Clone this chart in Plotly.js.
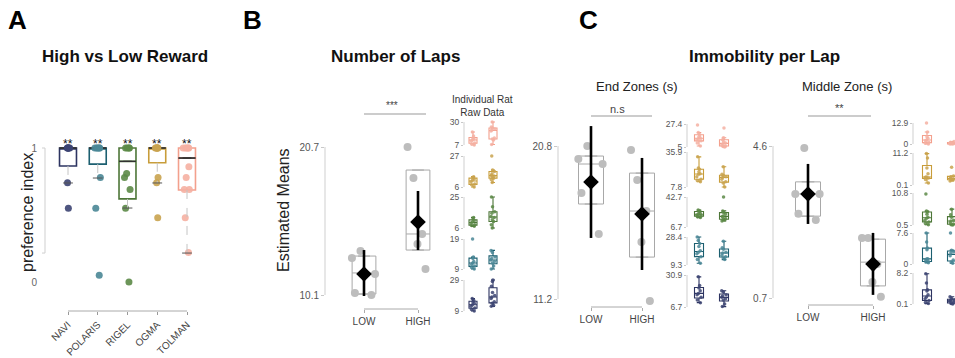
<!DOCTYPE html>
<html><head><meta charset="utf-8">
<script src="https://cdn.plot.ly/plotly-3.0.1.min.js"></script>
<style>html,body{margin:0;padding:0;background:#fff}#chart{width:955px;height:358px}</style>
</head><body><div id="chart"></div>
<script>
// ================= DATA =================
const rats = ['NAVI', 'POLARIS', 'RIGEL', 'OGMA', 'TOLMAN'];
const ratBoxColors = ['#2d3461', '#1c5f70', '#4d7638', '#c89d3a', '#f3a08d'];
const ratPointColors = ['#3c4472', '#4a8796', '#5c8947', '#c9a34f', '#f5b0a2'];

// Panel A: preference index (High vs Low Reward)
const prefQ1 = [0.866, 0.88, 0.62, 0.89, 0.687];
const prefMedian = [1, 1, 0.90, 1, 0.925];
const prefQ3 = [1, 1, 1, 1, 1];
const prefLowerWhisker = [0.739, 0.776, 0.552, 0.739, 0.216];
const prefPoints = [
  [1, 1, 1, 1, 1, 1, 0.74, 0.55],
  [1, 1, 1, 1, 1, 0.78, 0.55, 0.05],
  [1, 1, 1, 1, 0.81, 0.78, 0.69, 0.55, 0.0],
  [1, 1, 1, 1, 1, 1, 0.78, 0.74, 0.48],
  [1, 1, 1, 1, 1, 0.86, 0.78, 0.69, 0.69, 0.48, 0.22]
];
const prefSignif = ['**', '**', '**', '**', '**'];
const prefTicks = [0, 1];

const conditions = ['LOW', 'HIGH'];

// Panel B: number of laps (estimated means)
const lapsQ1 = [10.17, 13.32], lapsMedian = [11.68, 14.47], lapsQ3 = [12.89, 19.05];
const lapsMean = [11.6, 15.33], lapsCILow = [10.03, 13.32], lapsCIHigh = [13.32, 17.55];
const lapsPoints = [[13.25, 12.75, 11.6, 10.24, 10.1], [20.7, 18.48, 14.47, 13.75, 11.96]];
const lapsTicks = [10.1, 20.7];
const lapsSignif = '***';
const lapsRawLow = [
  [9, 10, 11, 12, 13, 14, 15, 16, 17],
  [9, 9.5, 10, 10.5, 11, 11.5, 12.5, 13, 19],
  [7, 7.5, 8, 9, 9.7, 10.5, 11.5, 12.5],
  [6, 7.5, 8, 9.5, 10.7, 11.5, 12.5, 13],
  [7, 8, 9, 11, 12, 13, 14, 16, 20]
];
const lapsRawHigh = [
  [12, 12.5, 14, 15, 17, 18, 19, 21, 25, 28, 29],
  [9, 10, 11, 11.5, 12, 12.5, 13, 14.5, 15.2],
  [6, 8, 10, 11, 12.5, 13, 15, 16, 19, 25],
  [9, 11, 12, 13, 13.4, 14, 15, 16.5, 17.5, 27],
  [7.5, 12, 13, 14, 21, 22, 23, 24, 25, 30]
];
const lapsRawTicks = [[9, 29], [9, 19], [6, 25], [6, 27], [7, 30]];

// Panel C: immobility per lap, end zones
const endQ1 = [17.16, 13.83], endMedian = [19.67, 16.72], endQ3 = [20.17, 19.1];
const endMean = [18.54, 16.53], endCILow = [15.03, 13.02], endCIHigh = [22.05, 20.05];
const endPoints = [[20.8, 19.98, 19.67, 17.85, 15.28], [20.55, 18.67, 16.72, 14.78, 11.07]];
const endTicks = [11.2, 20.8];
const endSignif = 'n.s';
const endRawLow = [
  [10, 12, 14, 16, 17, 19, 21, 23, 29.5],
  [10.5, 13, 15, 17, 18, 19, 22, 24, 26, 28.4],
  [18, 19, 20, 21, 22, 23, 25, 26, 27],
  [12, 13, 14, 16, 18, 18.5, 20, 22, 23, 32],
  [6, 9, 11, 12, 13, 14, 15, 17, 19, 26.5]
];
const endRawHigh = [
  [7, 9, 12, 13, 14, 15, 16, 18, 19],
  [13, 14, 15, 16, 17.5, 18, 20, 21, 25.5],
  [14, 15, 16, 17, 19, 20, 22, 24, 26, 42.7],
  [7.8, 11, 12, 14, 15.5, 16, 17, 18, 24],
  [5, 5.5, 6, 7, 8, 9, 10, 12, 14, 23.5]
];
const endRawTicks = [[6.7, 30.9], [9.3, 28.4], [6.7, 42.7], [7.8, 35.9], [5, 27.4]];

// Panel C: immobility per lap, middle zone
const midQ1 = [2.80, 1.01], midMedian = [3.37, 1.62], midQ3 = [3.68, 2.21];
const midMean = [3.37, 1.57], midCILow = [2.6, 0.78], midCIHigh = [4.14, 2.37];
const midPoints = [[4.55, 3.37, 3.37, 2.86, 2.70], [2.24, 2.24, 1.57, 1.11, 0.73]];
const midTicks = [0.7, 4.6];
const midSignif = '**';
const midRawLow = [
  [0.2, 0.5, 1, 1.5, 1.9, 2.5, 3.5, 3.8, 5.6, 8],
  [0.3, 0.5, 0.6, 1, 1.2, 1.3, 3.5, 3.9, 5.4, 7.6],
  [0.6, 1, 1.5, 2, 2.7, 3, 4, 4.7, 5, 10.5],
  [0.8, 2, 2.5, 2.8, 2.9, 4, 6, 9.5, 11],
  [0, 0.5, 1, 2, 2.5, 3.5, 4.5, 7.4, 12.9]
];
const midRawHigh = [
  [0.1, 0.2, 0.5, 0.8, 1, 1.2, 1.5, 2],
  [0.2, 0.5, 1, 2, 2.7, 3, 3.4, 7.6],
  [0.5, 0.6, 0.8, 1.2, 1.8, 2, 3, 3.8, 5.6],
  [1.5, 1.8, 2, 2.2, 2.5, 3, 3.2, 6.3],
  [0, 0, 0.2, 0.3, 0.5, 1, 1.5]
];
const midRawTicks = [[0.1, 8.2], [0, 7.6], [0.5, 10.8], [0.1, 11.2], [0, 12.9]];

// ================= LAYOUT HELPERS =================
const W = 955, H = 358;
const FONT = 'Liberation Sans, Arial, Helvetica, sans-serif';
function rng(p0, p1, pa, va, pb, vb) { const s = (vb - va) / (pb - pa); return [va + (p0 - pa) * s, va + (p1 - pa) * s]; }
function xAxis(l, r, pa, va, pb, vb, anchor, opts) {
  return Object.assign({domain: [l / W, Math.min(1, r / W)], range: rng(l, Math.min(r, W), pa, va, pb, vb), anchor: anchor,
    showgrid: false, zeroline: false, showline: false, fixedrange: true}, opts || {});
}
function yAxis(top, bot, pa, va, pb, vb, anchor, opts) {
  return Object.assign({domain: [1 - bot / H, 1 - top / H], range: rng(bot, top, pa, va, pb, vb), anchor: anchor,
    showgrid: false, zeroline: false, showline: false, fixedrange: true}, opts || {});
}
const traces = [];
const layout = {width: W, height: H, margin: {l: 0, r: 0, t: 0, b: 0}, paper_bgcolor: '#fff',
  plot_bgcolor: 'rgba(0,0,0,0)', font: {family: FONT, color: '#333'}, showlegend: false,
  boxmode: 'overlay', annotations: [], shapes: [], hovermode: false};
function ann(text, x, y, size, opts) {
  layout.annotations.push(Object.assign({text: text, x: x / W, y: 1 - y / H, xref: 'paper', yref: 'paper',
    showarrow: false, xanchor: 'center', yanchor: 'middle', font: {family: FONT, size: size, color: '#111'}}, opts || {}));
}
function hline(x0, x1, y, color) {
  layout.shapes.push({type: 'line', xref: 'paper', yref: 'paper', x0: x0 / W, x1: x1 / W, y0: 1 - y / H, y1: 1 - y / H, line: {color: color || '#999', width: 1}});
}
function yFrame(xPx, yref, v0, v1) {
  layout.shapes.push({type: 'line', xref: 'paper', yref: yref, x0: xPx / W, x1: xPx / W, y0: v0, y1: v1, line: {color: '#cfcfcf', width: 1}});
}
function xFrame(xref, yPx, v0, v1) {
  layout.shapes.push({type: 'line', xref: xref, yref: 'paper', x0: v0, x1: v1, y0: 1 - yPx / H, y1: 1 - yPx / H, line: {color: '#aaa', width: 1}});
}
const tickFont = {family: FONT, size: 10, color: '#555'};
const rawTickFont = {family: FONT, size: 8.5, color: '#555'};

// ================= PANEL A =================
layout.xaxis = xAxis(45, 205, 68, 0, 187, 4, 'y', {tickvals: rats.map((_, i) => i), ticktext: rats, tickangle: -45,
  ticks: 'outside', ticklen: 3, tickcolor: '#999', tickfont: {family: FONT, size: 10, color: '#444'}});
layout.yaxis = yAxis(128, 311, 148, 1, 282, 0, 'x', {tickvals: prefTicks, ticktext: prefTicks.map(String),
  ticks: 'outside', ticklen: 5, tickcolor: 'rgba(0,0,0,0)', tickfont: {family: FONT, size: 10, color: '#666'}});
rats.forEach((r, i) => {
  traces.push({type: 'scatter', mode: 'lines', xaxis: 'x', yaxis: 'y', x: [i, i], y: [prefQ1[i], prefLowerWhisker[i]],
    line: {color: '#c4c4c4', width: 1, dash: 'dash'}, hoverinfo: 'skip'});
  traces.push({type: 'scatter', mode: 'markers', xaxis: 'x', yaxis: 'y', x: [i], y: [prefLowerWhisker[i]],
    marker: {symbol: 'line-ew-open', size: 7, color: '#555', line: {color: '#555', width: 1}}, hoverinfo: 'skip'});
  traces.push({type: 'box', xaxis: 'x', yaxis: 'y', x: [i], q1: [prefQ1[i]], median: [prefMedian[i]], q3: [prefQ3[i]],
    lowerfence: [prefQ1[i]], upperfence: [prefQ3[i]], width: 0.57, boxpoints: false,
    line: {color: ratBoxColors[i], width: 1.6}, fillcolor: 'rgba(255,255,255,0)', hoverinfo: 'skip'});
  traces.push({type: 'box', xaxis: 'x', yaxis: 'y', x: [i], q1: [prefMedian[i]], median: [prefMedian[i]], q3: [prefMedian[i]],
    lowerfence: [prefMedian[i]], upperfence: [prefMedian[i]], width: 0.57, boxpoints: false,
    line: {color: '#333', width: 1}, fillcolor: 'rgba(0,0,0,0)', hoverinfo: 'skip'});
  traces.push({type: 'box', xaxis: 'x', yaxis: 'y', x: prefPoints[i].map(() => i), y: prefPoints[i],
    boxpoints: 'all', jitter: 0.7, pointpos: 0, width: 0.57, line: {width: 0, color: 'rgba(0,0,0,0)'},
    fillcolor: 'rgba(0,0,0,0)', marker: {color: ratPointColors[i], size: 7, opacity: 0.9}, hoverinfo: 'skip'});
  layout.annotations.push({text: prefSignif[i], x: i, y: 1, xref: 'x', yref: 'y', showarrow: false,
    yanchor: 'middle', yshift: 4, font: {family: FONT, size: 12, color: '#111'}});
});
yFrame(45, 'y', Math.min(...prefLowerWhisker), Math.max(...prefQ3));
[Math.min(...prefLowerWhisker), Math.max(...prefQ3)].forEach(v => layout.shapes.push({type: 'line', xref: 'paper', yref: 'y',
  x0: 42 / W, x1: 45 / W, y0: v, y1: v, line: {color: '#cfcfcf', width: 1}}));
xFrame('x', 311, 0, rats.length - 1);

// ================= MAIN PANEL HELPER =================
function mainPanel(xa, ya, q1, med, q3, pts, mean, lo, hi, boxW) {
  traces.push({type: 'box', xaxis: xa, yaxis: ya, x: conditions.map((_, i) => i), q1: q1, median: med, q3: q3,
    lowerfence: q1, upperfence: q3, width: boxW, boxpoints: false, line: {color: '#a8a8a8', width: 1},
    fillcolor: 'rgba(0,0,0,0)', hoverinfo: 'skip'});
  const xs = [], ys = [];
  pts.forEach((arr, i) => arr.forEach(v => { xs.push(i); ys.push(v); }));
  traces.push({type: 'box', xaxis: xa, yaxis: ya, x: xs, y: ys, boxpoints: 'all', jitter: 1, pointpos: 0,
    width: boxW * 1.2, line: {width: 0, color: 'rgba(0,0,0,0)'}, fillcolor: 'rgba(0,0,0,0)',
    marker: {color: '#bdbdbd', size: 8}, hoverinfo: 'skip'});
  traces.push({type: 'scatter', mode: 'markers', xaxis: xa, yaxis: ya, x: conditions.map((_, i) => i), y: mean,
    marker: {symbol: 'diamond', size: 12, color: '#000'}, cliponaxis: false,
    error_y: {type: 'data', symmetric: false, array: hi.map((h, i) => h - mean[i]), arrayminus: lo.map((l, i) => mean[i] - l),
      color: '#000', thickness: 2.6, width: 0}, hoverinfo: 'skip'});
}
function mainAxes(xName, yName, xl, xr, p0, p1, yt, yb, pa, va, pb, vb, ticks) {
  layout[xName] = xAxis(xl, xr, p0, 0, p1, 1, yName.replace('axis', ''), {tickvals: [0, 1], ticktext: conditions,
    ticks: 'outside', ticklen: 3, tickcolor: '#aaa', tickfont: {family: FONT, size: 10, color: '#444'}});
  layout[yName] = yAxis(yt, yb, pa, va, pb, vb, xName.replace('axis', ''), {tickvals: ticks, ticktext: ticks.map(String),
    ticks: 'outside', ticklen: 3, tickcolor: '#c8c8c8', tickfont: tickFont});
}
function rawPanel(xa, yStart, low, high, ticks, posPx, xName, xl, xr, p0, p1, boxW) {
  layout[xName] = xAxis(xl, xr, p0, 0, p1, 1, 'y' + yStart, {visible: false});
  rats.forEach((r, i) => {
    const yn = yStart + i;
    const [top, bot] = posPx[i];
    layout['yaxis' + yn] = yAxis(top - 5, bot + 5, top, ticks[i][1], bot, ticks[i][0], xa, {tickvals: ticks[i],
      ticktext: ticks[i].map(String), ticks: 'outside', ticklen: 2, tickcolor: '#c8c8c8', tickfont: rawTickFont});
    yFrame(xl, 'y' + yn, ticks[i][0], ticks[i][1]);
    traces.push({type: 'box', xaxis: xa, yaxis: 'y' + yn, x: low[i].map(() => 0).concat(high[i].map(() => 1)),
      y: low[i].concat(high[i]), boxpoints: 'all', jitter: 0.6, pointpos: 0, width: boxW,
      line: {color: ratBoxColors[i], width: 1.1}, fillcolor: 'rgba(255,255,255,0)',
      marker: {color: ratPointColors[i], size: 3.5, opacity: 0.85}, hoverinfo: 'skip'});
  });
}

// ================= PANEL B =================
mainAxes('xaxis2', 'yaxis2', 325, 440, 364, 418, 128, 309, 147, 20.7, 295, 10.1, lapsTicks);
mainPanel('x2', 'y2', lapsQ1, lapsMedian, lapsQ3, lapsPoints, lapsMean, lapsCILow, lapsCIHigh, 0.44);
yFrame(325, 'y2', lapsTicks[0], lapsTicks[1]);
xFrame('x2', 309, 0, 1);
rawPanel('x3', 3, lapsRawLow, lapsRawHigh, lapsRawTicks,
  [[280, 311], [239, 269], [197, 228], [156, 187], [122, 145]], 'xaxis3', 464, 515, 473, 493, 0.4);

// ================= PANEL C: End zones =================
mainAxes('xaxis4', 'yaxis8', 558, 665, 591, 642, 100, 307, 146, 20.8, 299, 11.2, endTicks);
mainPanel('x4', 'y8', endQ1, endMedian, endQ3, endPoints, endMean, endCILow, endCIHigh, 0.49);
yFrame(558, 'y8', endTicks[0], endTicks[1]);
xFrame('x4', 307, 0, 1);
rawPanel('x5', 9, endRawLow, endRawHigh, endRawTicks,
  [[275, 307], [237, 265], [197, 227], [152, 187], [124, 147]], 'xaxis5', 687, 745, 699, 724, 0.36);

// ================= PANEL C: Middle zone =================
mainAxes('xaxis6', 'yaxis14', 773, 900, 808, 873, 100, 305, 146, 4.6, 298, 0.7, midTicks);
mainPanel('x6', 'y14', midQ1, midMedian, midQ3, midPoints, midMean, midCILow, midCIHigh, 0.385);
yFrame(773, 'y14', midTicks[0], midTicks[1]);
xFrame('x6', 305, 0, 1);
rawPanel('x7', 15, midRawLow, midRawHigh, midRawTicks,
  [[273, 304], [233, 264], [193, 225], [153, 185], [123, 144]], 'xaxis7', 913, 955, 927, 952, 0.36);

// ================= TEXT =================
ann('<b>A</b>', 17, 20, 26, {font: {family: FONT, size: 26, color: '#000'}});
ann('<b>B</b>', 252, 20, 26, {font: {family: FONT, size: 26, color: '#000'}});
ann('<b>C</b>', 588, 20, 26, {font: {family: FONT, size: 26, color: '#000'}});
ann('<b>High vs Low Reward</b>', 125, 57, 17);
ann('<b>Number of Laps</b>', 395, 57, 17);
ann('<b>Immobility per Lap</b>', 764, 57, 17);
ann('End Zones (s)', 637, 86, 13, {font: {family: FONT, size: 13, color: '#222'}});
ann('Middle Zone (s)', 847, 86, 13, {font: {family: FONT, size: 13, color: '#222'}});
ann('Individual Rat<br>Raw Data', 482, 106, 10, {font: {family: FONT, size: 10, color: '#333'}});
ann('preference index', 28, 213, 16, {textangle: -90, font: {family: FONT, size: 16, color: '#222'}});
ann('Estimated Means', 283, 210, 16, {textangle: -90, font: {family: FONT, size: 16, color: '#222'}});
ann(lapsSignif, 392, 106, 10, {font: {family: FONT, size: 10, color: '#444'}});
hline(364, 426, 114);
ann(endSignif, 617, 109, 11, {font: {family: FONT, size: 11, color: '#444'}});
hline(591, 652, 116);
ann(midSignif, 839, 108, 11, {font: {family: FONT, size: 11, color: '#444'}});
hline(808, 871, 116);

Plotly.newPlot('chart', traces, layout, {staticPlot: true, displayModeBar: false});
</script>
</body></html>
